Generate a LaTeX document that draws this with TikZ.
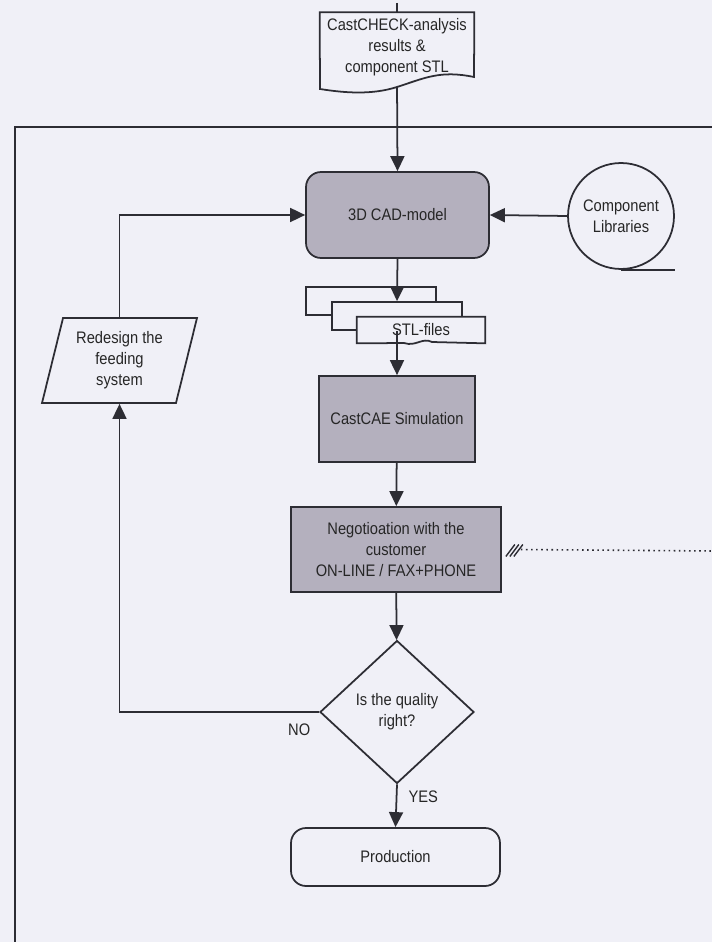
\documentclass[tikz,border=0pt]{standalone}
\usepackage{fontspec}
\setmainfont{Liberation Sans}[FakeStretch=0.88]
\usetikzlibrary{arrows.meta,shapes.geometric,positioning}

\definecolor{paper}{RGB}{240,240,247}
\definecolor{ink}{RGB}{45,45,52}
\definecolor{boxgrey}{RGB}{180,176,190}

\tikzset{
  plain/.style = {draw=ink, line width=1pt},
  flow/.style = {plain, -{Triangle[length=0.3cm, width=0.28cm]}},
  greybox/.style = {plain, fill=boxgrey, inner sep=2pt},
  sheet/.style = {plain, fill=paper, minimum width=2.6cm, minimum height=0.56cm}
}

\begin{document}
\begin{tikzpicture}[x=0.02cm, y=-0.02cm]
  \tikzstyle{every node} = [font=\fontsize{9.5}{12}\selectfont,
                            text=black!85,
                            align=center]
\fill[paper] (0,0) rectangle (712,942);
\useasboundingbox (0,0) rectangle (712,942);

% outer frame
\coordinate (FrameBL) at (15,942);
\coordinate (FrameTR) at (712,127);
\draw[ink, line width=1.6pt] (FrameBL) |- (FrameTR);

% input document
\node[minimum width=3.08cm, minimum height=1.38cm, inner sep=0] (Check) at (397,47)
  {CastCHECK-analysis\\results \&\\component STL};
\draw[plain] (Check.north west) -- (Check.north east) -- (474,77)
  .. controls (440,70) and (425,78) .. (397,87)
  .. controls (372,95) and (345,93) .. (320,89) -- cycle;
\coordinate (In) at (397,3);
\draw[plain] (In) -- (Check.north);

\node[greybox, rounded corners=0.3cm, minimum width=3.66cm, minimum height=1.72cm] (Cad) at (397.5,215) {3D CAD-model};
\node[circle, plain, minimum size=2.12cm, inner sep=0] (Lib) at (621,216) {Component\\Libraries};
\coordinate (TapeEnd) at (675,269);
\draw[plain] (Lib.south) -- (Lib.south -| TapeEnd);

% stack of STL files
\node[sheet] (StlA) at (371,301) {};
\node[sheet] (StlB) at (397,316) {};
\node[minimum width=2.56cm, minimum height=0.52cm, inner sep=0] (StlC) at (421,330) {};
\filldraw[plain, fill=paper] (StlC.south west) -- (StlC.north west) -- (StlC.north east)
  -- (StlC.south east) -- (432,342) .. controls (422,337) and (416,347) .. (404,343) -- cycle;
\node (StlText) at (StlC) {STL-files};

\node[greybox, minimum width=3.12cm, minimum height=1.72cm] (Cae) at (397,419) {CastCAE Simulation};
\node[greybox, minimum width=4.2cm, minimum height=1.7cm] (Neg) at (396,549.5)
  {Negotioation with the\\customer\\ON-LINE / FAX+PHONE};
\node[diamond, plain, minimum width=3.08cm, minimum height=2.86cm, inner sep=0] (Qual) at (397,712)
  {Is the quality\\right?};
\node[plain, rounded corners=0.3cm, minimum width=4.18cm, minimum height=1.16cm] (Prod) at (395.5,857) {Production};
\node[trapezium, trapezium left angle=70, trapezium right angle=110, trapezium stretches body,
      plain, minimum width=3.1cm, minimum height=1.7cm, inner sep=0] (Redesign) at (119.5,360.5)
  {Redesign the\\feeding\\system};

% communication link
\coordinate (Link) at (712,551);
\draw[ink, dotted, line width=0.9pt] ([xshift=0.38cm]Neg.east) -- (Link);
\foreach \dx in {4,8,12}
  \draw[ink, line width=0.8pt] ([shift={(\dx,7)}]Neg.east) -- ++(9,-12);

\draw[flow, shorten <=0.1cm] (Check.south) -- (Cad.north);
\draw[flow] (Lib.west) -- (Cad.east);
\draw[flow] (Cad.south) -- (StlB.north);
\draw[flow] (StlB.south) -- (Cae.north);
\draw[flow] (Cae) -- (Neg);
\draw[flow] (Neg) -- (Qual);
\draw[flow] (Qual.south) -- node[pos=0.3, right=3pt] {YES} (Prod.north);
\draw[flow] (Qual.west) -| node[pos=0.05, below=3pt] {NO} (Redesign.south);
\draw[flow] (Redesign.north) |- (Cad.west);

\end{tikzpicture}
\end{document}
